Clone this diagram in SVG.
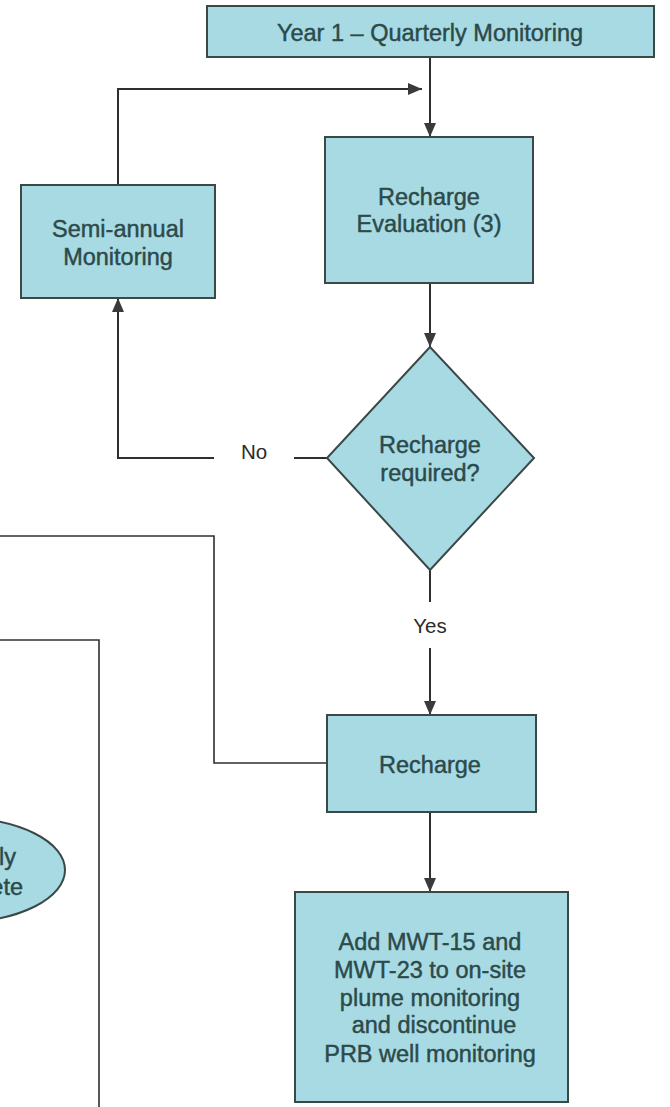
<svg xmlns="http://www.w3.org/2000/svg" width="670" height="1107" viewBox="0 0 670 1107">
<style>
.box{fill:#a8dae3;stroke:#3b4848;stroke-width:2}
.t{font-family:"Liberation Sans",Arial,sans-serif;font-size:23.5px;fill:#2c4a4a;stroke:#2c4a4a;stroke-width:0.45px;text-anchor:middle}
.lbl{font-family:"Liberation Sans",Arial,sans-serif;font-size:20.5px;fill:#2a2a2a;text-anchor:middle}
.c{fill:none;stroke:#2f2f2f;stroke-width:2}
.c2{fill:none;stroke:#2f2f2f;stroke-width:1.6}
</style>
<defs>
<marker id="ah" markerUnits="userSpaceOnUse" markerWidth="14" markerHeight="12" refX="14" refY="6" orient="auto">
<path d="M0,0 L14,6 L0,12 z" fill="#3a3a3a"/>
</marker>
</defs>
<rect width="670" height="1107" fill="#ffffff"/>
<g id="connectors">
<line class="c" x1="430" y1="57" x2="430" y2="137" marker-end="url(#ah)"/>
<path class="c" d="M118,185 V89 H422" marker-end="url(#ah)"/>
<line class="c" x1="430" y1="283" x2="430" y2="347" marker-end="url(#ah)"/>
<line class="c" x1="327" y1="458" x2="294" y2="458"/>
<path class="c" d="M214,458 H118 V298" marker-end="url(#ah)"/>
<line class="c" x1="430" y1="570" x2="430" y2="602"/>
<line class="c" x1="430" y1="648" x2="430" y2="715" marker-end="url(#ah)"/>
<line class="c" x1="430" y1="812" x2="430" y2="892" marker-end="url(#ah)"/>
<path class="c2" d="M327,763 H214 V536 H0"/>
<path class="c2" d="M0,640 H99 V1107"/>
<text class="lbl" x="254" y="459">No</text>
<text class="lbl" x="430" y="633">Yes</text>
</g>
<g id="n-year1">
<rect class="box" x="207" y="6" width="447" height="51"/>
<text class="t" x="430" y="41">Year 1 – Quarterly Monitoring</text>
</g>
<g id="n-semiannual">
<rect class="box" x="21" y="185" width="194" height="113"/>
<text class="t" x="118" y="237">Semi-annual</text>
<text class="t" x="118" y="265">Monitoring</text>
</g>
<g id="n-receval">
<rect class="box" x="325" y="137" width="208" height="146"/>
<text class="t" x="429" y="205">Recharge</text>
<text class="t" x="429" y="232">Evaluation (3)</text>
</g>
<g id="n-decision">
<polygon class="box" points="430,347 534,458 430,570 327,458"/>
<text class="t" x="430" y="453">Recharge</text>
<text class="t" x="430" y="481">required?</text>
</g>
<g id="n-recharge">
<rect class="box" x="327" y="715" width="209" height="97"/>
<text class="t" x="430" y="773">Recharge</text>
</g>
<g id="n-final">
<rect class="box" x="295" y="892" width="273" height="210"/>
<text class="t" x="430" y="950">Add MWT-15 and</text>
<text class="t" x="430" y="978">MWT-23 to on-site</text>
<text class="t" x="430" y="1006">plume monitoring</text>
<text class="t" x="434" y="1033">and discontinue</text>
<text class="t" x="430" y="1062">PRB well monitoring</text>
</g>
<g id="n-ellipse">
<ellipse class="box" cx="-40" cy="870" rx="105" ry="52"/>
<text class="t" x="16" y="865" style="text-anchor:end">ly</text>
<text class="t" x="23" y="895" style="text-anchor:end">ete</text>
</g>
</svg>
